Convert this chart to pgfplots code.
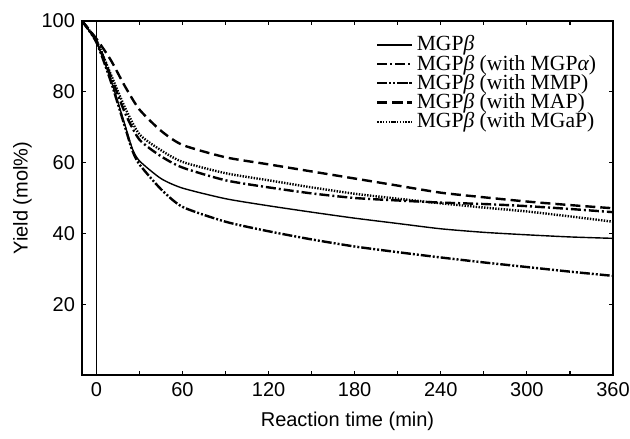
\documentclass[border=0pt]{standalone}
\usepackage{fontspec}
\setmainfont{Liberation Sans}
\newfontfamily\serif{Liberation Serif}
\usepackage{pgfplots}
\pgfplotsset{compat=1.18}
\begin{document}
\begin{tikzpicture}
\begin{axis}[
  scale only axis,
  width=265.5pt, height=177pt,
  xmin=-10, xmax=360, ymin=0, ymax=100,
  xtick={0,60,...,360},
  minor xtick={30,90,...,330},
  ytick={20,40,60,80,100},
  tick align=inside,
  major tick length=2pt, minor tick length=2pt,
  tick style={line width=0.6pt, black},
  axis line style={line width=1.2pt},
  font=\fontsize{10}{12}\selectfont,
  /pgf/number format/assume math mode=true,
  xlabel={Reaction time (min)},
  ylabel={Yield (mol\%)},
  xlabel style={yshift=-1pt},
  ylabel style={yshift=-2pt},
  legend style={at={(0.542,0.982)}, anchor=north west, draw=none, fill=none,
    font=\serif\fontsize{10.8}{10}\selectfont, row sep=-3.5pt},
  legend cell align=left,
]
\addplot[black, line width=0.7pt, smooth, tension=0.4] coordinates {
(-10,100)(0,94)(10,83.5)(20,70.5)(25,64)(30,60.5)(45,55.5)(60,52.8)(90,49.8)(120,47.8)(150,46)(180,44.3)(210,42.8)(240,41.3)(270,40.3)(300,39.6)(330,39)(360,38.6)};
\addlegendentry{MGP{\itshape β}}
\addplot[black, line width=1.2pt, smooth, tension=0.4, dash pattern=on 5pt off 1.5pt on 1pt off 1.5pt] coordinates {
(-10,100)(0,94.5)(10,84.5)(20,74)(30,66.5)(45,61.8)(60,58.6)(90,55)(120,53)(150,51.3)(180,50)(210,49.3)(240,48.7)(270,48.3)(300,47.7)(330,46.9)(360,46)};
\addlegendentry{MGP{\itshape β} (with MGP{\itshape α})}
\addplot[black, line width=1.2pt, smooth, tension=0.4, dash pattern=on 5pt off 1pt on 1pt off 1pt on 1pt off 1pt] coordinates {
(-10,100)(0,94)(10,83)(20,70)(25,63.5)(30,59.5)(45,52.5)(60,47.5)(90,43.3)(120,40.6)(150,38.3)(180,36.3)(210,34.7)(240,33.2)(270,31.8)(300,30.5)(330,29.2)(360,28)};
\addlegendentry{MGP{\itshape β} (with MMP)}
\addplot[black, line width=1.2pt, smooth, tension=0.4, dash pattern=on 5pt off 2.5pt] coordinates {
(-10,100)(0,95)(10,89)(20,81.5)(30,75)(45,69)(60,65)(90,61.5)(120,59.5)(150,57.5)(180,55.5)(210,53.5)(240,51.5)(270,50.2)(300,49)(330,48)(360,47.1)};
\addlegendentry{MGP{\itshape β} (with MAP)}
\addplot[black, line width=1.2pt, smooth, tension=0.4, dash pattern=on 0.7pt off 0.7pt] coordinates {
(-10,100)(0,94.5)(10,85)(20,75.5)(30,68)(45,63.5)(60,60.2)(90,57)(120,55)(150,53)(180,51.2)(210,49.8)(240,48.5)(270,47.3)(300,46.2)(330,44.8)(360,43.3)};
\addlegendentry{MGP{\itshape β} (with MGaP)}
\addplot[black, line width=0.6pt, forget plot] coordinates {(0,0)(0,100)};
\end{axis}
\pgfresetboundingbox
\path ([xshift=-41pt,yshift=-31.5pt]current axis.south west) rectangle ([xshift=8.5pt,yshift=10.5pt]current axis.north east);
\end{tikzpicture}
\end{document}
